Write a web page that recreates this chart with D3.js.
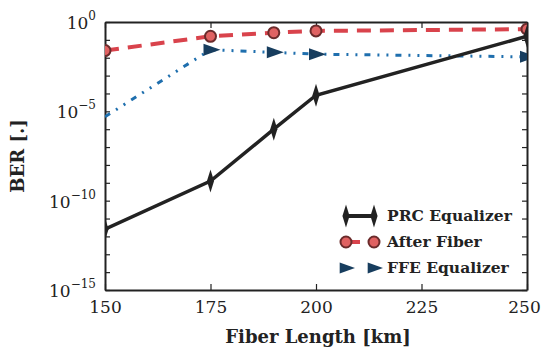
<!doctype html>
<html lang="en">
<head>
<meta charset="UTF-8">
<title>BER vs fiber length</title>
<script src="https://cdn.jsdelivr.net/npm/d3@7"></script>
<style>
  body { margin: 0; background: #fff; }
  text { font-family: "DejaVu Serif", "Liberation Serif", serif; fill: #222; }
</style>
</head>
<body>
<script>
// data (BER as powers of ten)
var lengths = [150, 175, 190, 200, 250];
var prcBer = [-11.6, -8.9, -6.0, -4.1, -0.8];
var fiberBer = [-1.6, -0.8, -0.6, -0.5, -0.4];
var ffeBer = [-5.3, -1.55, -1.7, -1.8, -1.95];
var xTicks = [150, 175, 200, 225, 250];
var yMajor = [0, -5, -10, -15];
var seriesNames = ["PRC Equalizer", "After Fiber", "FFE Equalizer"];

var W = 543, H = 352;
var m = {left: 105, right: 16, top: 22, bottom: 62};

var svg = d3.select("body").append("svg").attr("width", W).attr("height", H);

var x = d3.scaleLinear().domain([150, 250]).range([m.left, W - m.right]);
var y = d3.scaleLinear().domain([-15, 0]).range([H - m.bottom, m.top]);

var toPts = function(vals) {
  return lengths.map(function(d, i) { return [d, vals[i]]; });
};

svg.append("clipPath").attr("id", "plot").append("rect")
  .attr("x", x(150)).attr("y", y(0)).attr("width", x(250) - x(150)).attr("height", y(-15) - y(0));

// axes frame, ticks pointing inward
var decades = d3.range(-15, 1);
var gx = svg.append("g").attr("transform", "translate(0," + y(-15) + ")")
  .call(d3.axisBottom(x).tickValues(xTicks).tickSizeInner(-6).tickSizeOuter(0).tickPadding(11));
gx.selectAll("text").style("font-size", "17px")
  .attr("dx", function(d) { return d === 250 ? -3 : 0; });
svg.append("g").attr("transform", "translate(0," + y(0) + ")")
  .call(d3.axisTop(x).tickValues(xTicks).tickSizeInner(-6).tickSizeOuter(0).tickFormat(""));
svg.append("g").attr("transform", "translate(" + x(150) + ",0)")
  .call(d3.axisLeft(y).tickValues(decades).tickSizeInner(-5).tickSizeOuter(0).tickFormat(""));
svg.append("g").attr("transform", "translate(" + x(250) + ",0)")
  .call(d3.axisRight(y).tickValues(decades).tickSizeInner(-5).tickSizeOuter(0).tickFormat(""));
svg.selectAll(".domain").attr("stroke", "#222").attr("stroke-width", 2);
svg.selectAll(".tick line").attr("stroke", "#222").attr("stroke-width", 1.2);

// y tick labels 10^n
yMajor.forEach(function(p) {
  var t = svg.append("text").attr("x", x(150) - 9).attr("y", y(p) + 7)
    .attr("text-anchor", "end").style("font-size", "17px");
  t.append("tspan").text("10");
  t.append("tspan").attr("dy", -9).style("font-size", "12px").text(p === 0 ? "0" : "\u2212" + (-p));
});

// axis titles
svg.append("text").attr("x", (x(150) + x(250)) / 2 + 2).attr("y", H - 9)
  .attr("text-anchor", "middle").style("font-size", "18px").style("font-weight", "bold")
  .text("Fiber Length [km]");
svg.append("text").attr("transform", "translate(24," + y(-7.5) + ") rotate(-90)")
  .attr("text-anchor", "middle").style("font-size", "18px").style("font-weight", "bold")
  .text("BER [.]");

var line = d3.line().x(function(d) { return x(d[0]); }).y(function(d) { return y(d[1]); });
var plot = svg.append("g").attr("clip-path", "url(#plot)");

var diamond = d3.symbol().type(d3.symbolDiamond).size(90);
var tri = function(s) {
  return "M" + (-s * 0.7) + "," + (-s * 0.6) + "L" + s + ",0L" + (-s * 0.7) + "," + (s * 0.6) + "Z";
};

// FFE equalizer
plot.append("path").datum(toPts(ffeBer)).attr("d", line)
  .attr("fill", "none").attr("stroke", "#1f6fae").attr("stroke-width", 3)
  .attr("stroke-dasharray", "6,7,2,7,2,7");
plot.selectAll(".ffe").data(toPts(ffeBer).slice(1)).enter().append("path")
  .attr("transform", function(d) { return "translate(" + x(d[0]) + "," + y(d[1]) + ")"; })
  .attr("d", tri(10)).attr("fill", "#173d5e");

// after fiber
plot.append("path").datum(toPts(fiberBer)).attr("d", line)
  .attr("fill", "none").attr("stroke", "#d9434c").attr("stroke-width", 4)
  .attr("stroke-dasharray", "14,9");
plot.selectAll(".fib").data(toPts(fiberBer)).enter().append("circle")
  .attr("cx", function(d) { return x(d[0]); }).attr("cy", function(d) { return y(d[1]); })
  .attr("r", 5.5).attr("fill", "#e06262").attr("stroke", "#6b2b2b").attr("stroke-width", 2);

// PRC equalizer
plot.append("path").datum(toPts(prcBer)).attr("d", line)
  .attr("fill", "none").attr("stroke", "#222").attr("stroke-width", 3.5);
plot.selectAll(".prc").data(toPts(prcBer)).enter().append("path")
  .attr("transform", function(d) { return "translate(" + x(d[0]) + "," + y(d[1]) + ") scale(0.7,1.3)"; })
  .attr("d", diamond).attr("fill", "#222");

// legend
var lg = svg.append("g");
var rows = [216, 242, 268];
rows.forEach(function(ry, i) {
  var x0 = 346, x1 = 374;
  if (i === 0) {
    lg.append("line").attr("x1", x0).attr("x2", x1).attr("y1", ry).attr("y2", ry)
      .attr("stroke", "#222").attr("stroke-width", 4);
    [x0, x1].forEach(function(px) {
      lg.append("path").attr("transform", "translate(" + px + "," + ry + ") scale(0.7,1.3)")
        .attr("d", diamond).attr("fill", "#222");
    });
  } else if (i === 1) {
    lg.append("line").attr("x1", x0).attr("x2", x0 + 14).attr("y1", ry).attr("y2", ry)
      .attr("stroke", "#d9434c").attr("stroke-width", 4);
    [x0, x1].forEach(function(px) {
      lg.append("circle").attr("cx", px).attr("cy", ry).attr("r", 5.5)
        .attr("fill", "#e06262").attr("stroke", "#6b2b2b").attr("stroke-width", 2);
    });
  } else {
    [x0, x1].forEach(function(px) {
      lg.append("path").attr("transform", "translate(" + px + "," + ry + ")")
        .attr("d", tri(9)).attr("fill", "#173d5e");
    });
  }
  lg.append("text").attr("x", 387).attr("y", ry + 5).style("font-size", "15.5px")
    .style("font-weight", "bold").text(seriesNames[i]);
});
</script>
</body>
</html>
